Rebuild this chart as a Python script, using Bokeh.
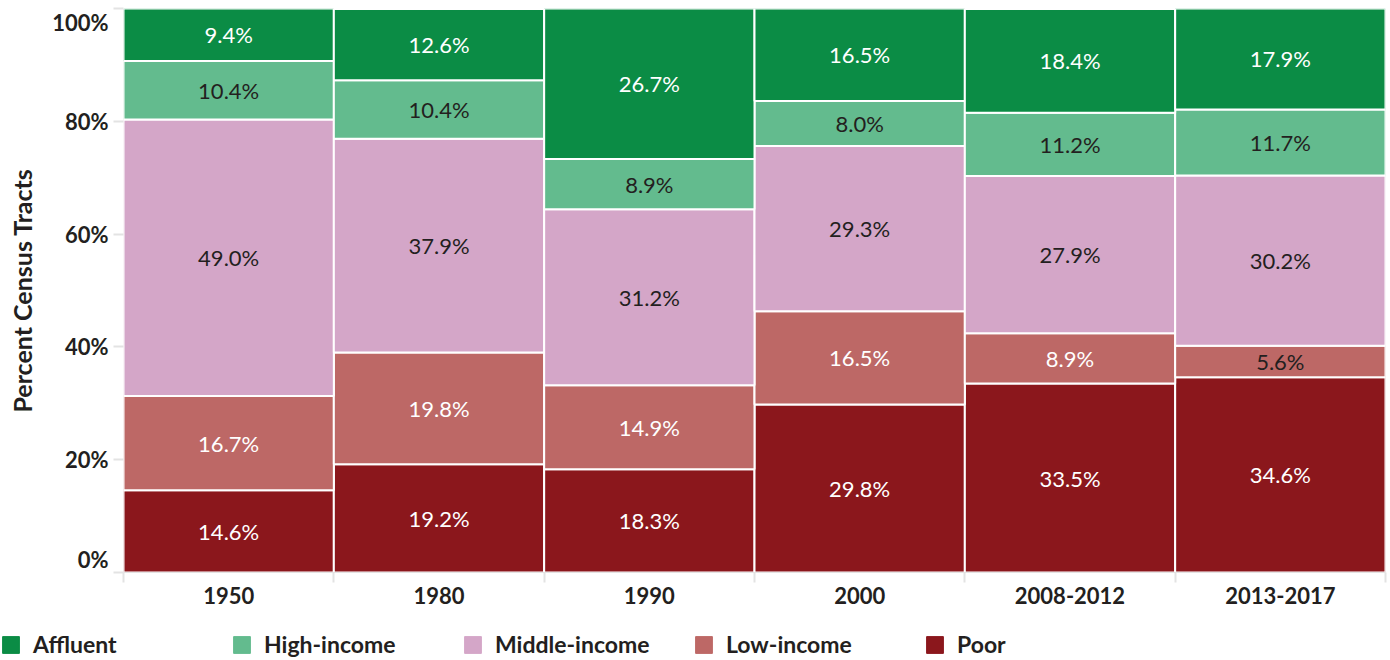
from bokeh.plotting import figure
from bokeh.layouts import column
from bokeh.models import (ColumnDataSource, Range1d, FixedTicker, Legend, LegendItem)
from bokeh.core.properties import value
from bokeh.embed import file_html
from bokeh.resources import INLINE

# ---- data ----
periods = ["1950", "1980", "1990", "2000", "2008-2012", "2013-2017"]
series = ["Poor", "Low-income", "Middle-income", "High-income", "Affluent"]
poor = [14.6, 19.2, 18.3, 29.8, 33.5, 34.6]
low_income = [16.7, 19.8, 14.9, 16.5, 8.9, 5.6]
middle_income = [49.0, 37.9, 31.2, 29.3, 27.9, 30.2]
high_income = [10.4, 10.4, 8.9, 8.0, 11.2, 11.7]
affluent = [9.4, 12.6, 26.7, 16.5, 18.4, 17.9]
y_ticks = [0, 20, 40, 60, 80, 100]
legend_order = ["Affluent", "High-income", "Middle-income", "Low-income", "Poor"]

colors = {"Poor": "#8b171c", "Low-income": "#bd6866", "Middle-income": "#d4a6c8",
          "High-income": "#63bb8e", "Affluent": "#0b8c45"}
dark = "#231f20"
FONT = "Lato"

values = {"Poor": poor, "Low-income": low_income, "Middle-income": middle_income,
          "High-income": high_income, "Affluent": affluent}

W = 1388
FRAME_TOP, FRAME_H = 8, 564

xpos = [i + 0.5 for i in range(len(periods))]
data = {"x": xpos}
for s in series:
    data[s] = values[s]
src = ColumnDataSource(data)

p = figure(width=W, height=616, x_range=Range1d(0, len(periods)), y_range=Range1d(0, 100),
           output_backend="svg", toolbar_location=None,
           min_border_left=123, min_border_right=3, min_border_top=FRAME_TOP,
           min_border_bottom=616 - FRAME_TOP - FRAME_H)
p.frame_align = False
p.outline_line_color = None
p.grid.grid_line_color = None

renderers = p.vbar_stack(series, x="x", width=1.0, source=src,
                         fill_color=[colors[s] for s in series],
                         line_color="white", line_width=2)

# value labels
lx, ly, lt, lc = [], [], [], []
for i in range(len(periods)):
    base = 0.0
    for s in series:
        v = values[s][i]
        lx.append(xpos[i])
        ly.append(base + v / 2)
        lt.append(f"{v:.1f}%")
        if s in ("High-income", "Middle-income") or v < 6:
            lc.append(dark)
        else:
            lc.append("white")
        base += v
lsrc = ColumnDataSource(dict(x=lx, y=ly, t=lt, c=lc))
p.text(x="x", y="y", text="t", text_color="c", source=lsrc, text_align="center",
       text_baseline="middle", text_font=value(FONT), text_font_size="22px")

# y axis: tick marks at the true values, end labels kept inside the frame's span
px_per_unit = FRAME_H / 100.0
label_pos = []
overrides = {}
for t in y_ticks:
    if t == y_ticks[0]:
        pos = round(t + 13 / px_per_unit, 2)
    elif t == y_ticks[-1]:
        pos = round(t - 14 / px_per_unit, 2)
    else:
        pos = t
    label_pos.append(pos)
    overrides[pos] = f"{t}%"

yax = p.yaxis[0]
yax.ticker = FixedTicker(ticks=label_pos, minor_ticks=y_ticks)
yax.major_label_overrides = overrides
yax.major_label_text_font = FONT
yax.major_label_text_font_style = "bold"
yax.major_label_text_font_size = "22px"
yax.major_label_text_color = dark
yax.major_tick_out = 10
yax.major_tick_in = 0
yax.major_tick_line_color = None
yax.minor_tick_out = 10
yax.minor_tick_in = 0
yax.minor_tick_line_color = "#e3e3e3"
yax.minor_tick_line_width = 2
yax.axis_line_color = None
yax.major_label_standoff = 5
yax.axis_label = "Percent Census Tracts"
yax.axis_label_text_font = FONT
yax.axis_label_text_font_style = "bold"
yax.axis_label_text_font_size = "25px"
yax.axis_label_text_color = dark
yax.axis_label_standoff = 12

# x axis
xax = p.xaxis[0]
xax.ticker = FixedTicker(ticks=xpos, minor_ticks=list(range(len(periods) + 1)))
xax.major_label_overrides = {x: per for x, per in zip(xpos, periods)}
xax.major_tick_line_color = None
xax.minor_tick_line_color = "#e3e3e3"
xax.minor_tick_line_width = 2
xax.minor_tick_out = 10
xax.minor_tick_in = 0
xax.major_tick_out = 10
xax.axis_line_color = "#e3e3e3"
xax.major_label_text_font = FONT
xax.major_label_text_font_style = "bold"
xax.major_label_text_font_size = "22px"
xax.major_label_text_color = dark
xax.major_label_standoff = 4

# legend in its own strip below the chart
lf = figure(width=W, height=42, x_range=Range1d(0, 1), y_range=Range1d(0, 1),
            output_backend="svg", toolbar_location=None,
            x_axis_location=None, y_axis_location=None,
            min_border_left=0, min_border_right=0, min_border_top=0, min_border_bottom=0)
lf.frame_align = False
lf.grid.grid_line_color = None
lf.outline_line_color = None
items = []
for s in legend_order:
    r = lf.vbar(x=[5], top=[1], width=0.1, fill_color=colors[s], line_color=colors[s])
    items.append(LegendItem(label=s, renderers=[r]))
legend = Legend(items=items, orientation="horizontal", location=(0, 0),
                margin=0, padding=0, spacing=0,
                glyph_width=21, glyph_height=21, label_standoff=12, label_width=198,
                label_text_font=FONT, label_text_font_style="bold",
                label_text_font_size="23px", label_text_color=dark,
                border_line_color=None, background_fill_alpha=0)
lf.add_layout(legend)

layout = column(p, lf, spacing=0)
open("out.html", "w").write(file_html(layout, INLINE))
